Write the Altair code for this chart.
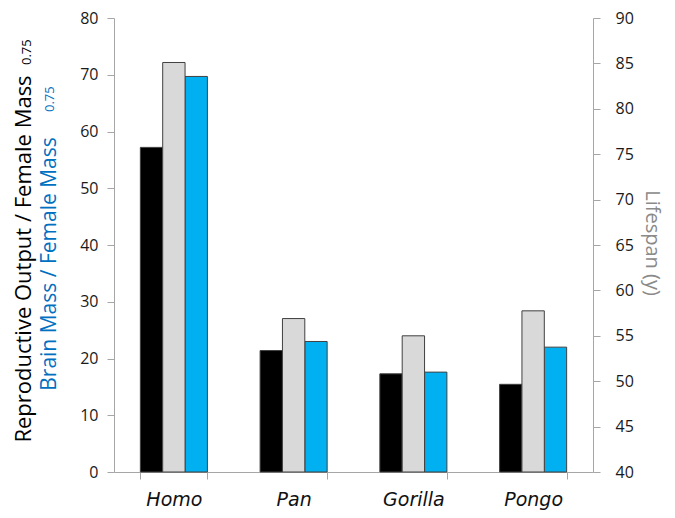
import altair as alt
import pandas as pd

# ---- data ----
genera = ["Homo", "Pan", "Gorilla", "Pongo"]
reproductive_output = [57.2, 21.4, 17.3, 15.45]   # left axis
brain_mass = [69.7, 23.0, 17.6, 22.0]              # left axis
lifespan = [85.1, 56.9, 55.0, 57.75]               # right axis (years)

series_order = ["Reproductive", "Lifespan", "Brain"]
series_colors = ["#000000", "#d9d9d9", "#00b0f0"]

left_ticks = list(range(0, 81, 10))
right_ticks = list(range(40, 91, 5))

title_black = ["Reproductive Output / Female Mass"]
title_blue = ["Brain Mass  / Female Mass"]
title_sup = ["0.75"]
title_right = ["Lifespan (y)"]

left_df = pd.DataFrame({
    "genus": genera * 2,
    "series": ["Reproductive"] * len(genera) + ["Brain"] * len(genera),
    "value": reproductive_output + brain_mass,
})
right_df = pd.DataFrame({
    "genus": genera,
    "series": ["Lifespan"] * len(genera),
    "value": lifespan,
})

AXIS_GREY = "#a6a6a6"
LABEL_FONT = "Open Sans"

x_enc = alt.X(
    "genus:N", sort=genera,
    scale=alt.Scale(paddingInner=0.44, paddingOuter=0.22),
    axis=alt.Axis(title=None, labelAngle=0, tickBand="extent", tickSize=7,
                  domainColor=AXIS_GREY, tickColor=AXIS_GREY,
                  labelFont="DejaVu Sans", labelFontStyle="italic", labelFontSize=19,
                  labelColor="#111111", labelPadding=26, labelBaseline="alphabetic"),
)
xoff_enc = alt.XOffset("series:N", scale=alt.Scale(domain=series_order, paddingInner=0, paddingOuter=0))
color_enc = alt.Color("series:N", scale=alt.Scale(domain=series_order, range=series_colors), legend=None)

left_bars = alt.Chart(left_df).mark_bar(stroke="#404040", strokeWidth=1).encode(
    x=x_enc, xOffset=xoff_enc, color=color_enc,
    y=alt.Y("value:Q", scale=alt.Scale(domain=[0, 80], nice=False),
            axis=alt.Axis(orient="left", title=None, values=left_ticks, grid=False,
                          tickSize=7, domainColor=AXIS_GREY, tickColor=AXIS_GREY,
                          labelFont=LABEL_FONT, labelFontSize=16, labelColor="#1a1a1a",
                          labelPadding=9)),
)

right_bars = alt.Chart(right_df).mark_bar(stroke="#404040", strokeWidth=1).encode(
    x=x_enc, xOffset=xoff_enc, color=color_enc,
    y=alt.Y("value:Q", scale=alt.Scale(domain=[40, 90], zero=False, nice=False),
            axis=alt.Axis(orient="right", title=None, values=right_ticks, grid=False,
                          tickSize=7, domainColor=AXIS_GREY, tickColor=AXIS_GREY,
                          labelFont=LABEL_FONT, labelFontSize=16, labelColor="#1a1a1a",
                          labelPadding=15)),
    y2=alt.datum(40),
)

def title_layer(text_list, x, y, angle, align, color, size):
    df = pd.DataFrame({"t": text_list})
    return alt.Chart(df).mark_text(
        angle=angle, align=align, baseline="alphabetic", color=color,
        font=LABEL_FONT, fontSize=size,
    ).encode(text="t:N", x=alt.value(x), y=alt.value(y))

# plot origin is at (114, 18) in page pixels
t_black = title_layer(title_black, -83, 241, 270, "center", "#000000", 22)
t_black_sup = title_layer(title_sup, -83, 47, 270, "left", "#000000", 13)
t_blue = title_layer(title_blue, -58, 246, 270, "center", "#0070c0", 21)
t_blue_sup = title_layer(title_sup, -60, 94, 270, "left", "#0070c0", 13)
t_right = title_layer(title_right, 532, 225, 90, "center", "#8a8a8a", 20)

chart = alt.layer(
    left_bars, right_bars, t_black, t_black_sup, t_blue, t_blue_sup, t_right
).resolve_scale(y="independent").properties(
    width=479, height=454,
    autosize=alt.AutoSizeParams(type="none"),
    padding={"left": 106, "top": 10, "right": 74, "bottom": 38},
).configure_view(stroke=None)

chart.save("out.html", embed_options={"renderer": "svg", "actions": False})
